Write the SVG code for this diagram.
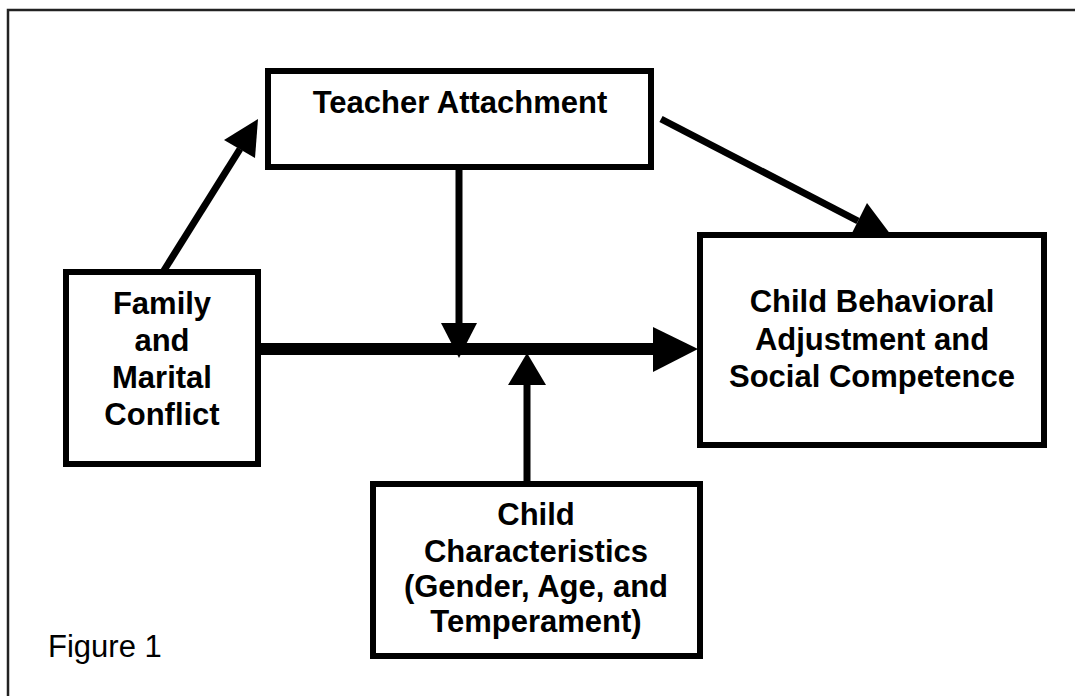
<svg xmlns="http://www.w3.org/2000/svg" width="1075" height="696" viewBox="0 0 1075 696">
<style>
.box{fill:#fff;stroke:#000;stroke-width:6}
.lbl{font-family:"Liberation Sans",Arial,sans-serif;font-weight:bold;font-size:31px;text-anchor:middle;fill:#000}
.ln{stroke:#000;stroke-width:7;fill:none}
.hd{fill:#000}
</style>
<rect x="0" y="0" width="1075" height="696" fill="#fff"/>
<rect id="frame" x="8" y="10" width="1100" height="720" fill="none" stroke="#222" stroke-width="2.5"/>
<g id="connectors">
  <line class="ln" x1="163" y1="272" x2="240" y2="149"/>
  <polygon class="hd" points="258,119 224,140 255,158"/>
  <line class="ln" x1="661" y1="119" x2="858" y2="221"/>
  <polygon class="hd" points="894,239 867,203 849,239"/>
  <line class="ln" x1="459" y1="170" x2="459" y2="324"/>
  <polygon class="hd" points="441,323 477,323 459,358"/>
  <line class="ln" x1="527" y1="482" x2="527" y2="384"/>
  <polygon class="hd" points="508,385 546,385 527,353"/>
  <line x1="258" y1="349" x2="655" y2="349" stroke="#000" stroke-width="12"/>
  <polygon class="hd" points="653,327 653,372 698,349"/>
</g>
<g id="teacher">
  <rect class="box" x="268" y="71" width="383" height="96"/>
  <text class="lbl" x="460" y="113">Teacher Attachment</text>
</g>
<g id="family">
  <rect class="box" x="66" y="272" width="192" height="192"/>
  <text class="lbl" x="162" y="314">Family</text>
  <text class="lbl" x="162" y="351">and</text>
  <text class="lbl" x="162" y="388">Marital</text>
  <text class="lbl" x="162" y="425">Conflict</text>
</g>
<g id="outcome">
  <rect class="box" x="700" y="235" width="344" height="210"/>
  <text class="lbl" x="872" y="312">Child Behavioral</text>
  <text class="lbl" x="872" y="350">Adjustment and</text>
  <text class="lbl" x="872" y="387">Social Competence</text>
</g>
<g id="child">
  <rect class="box" x="373" y="484" width="327" height="172"/>
  <text class="lbl" x="536" y="525">Child</text>
  <text class="lbl" x="536" y="562">Characteristics</text>
  <text class="lbl" x="536" y="597">(Gender, Age, and</text>
  <text class="lbl" x="536" y="632">Temperament)</text>
</g>
<text id="caption" x="48" y="657" font-family="Liberation Sans,Arial,sans-serif" font-size="31" fill="#000">Figure 1</text>
</svg>
